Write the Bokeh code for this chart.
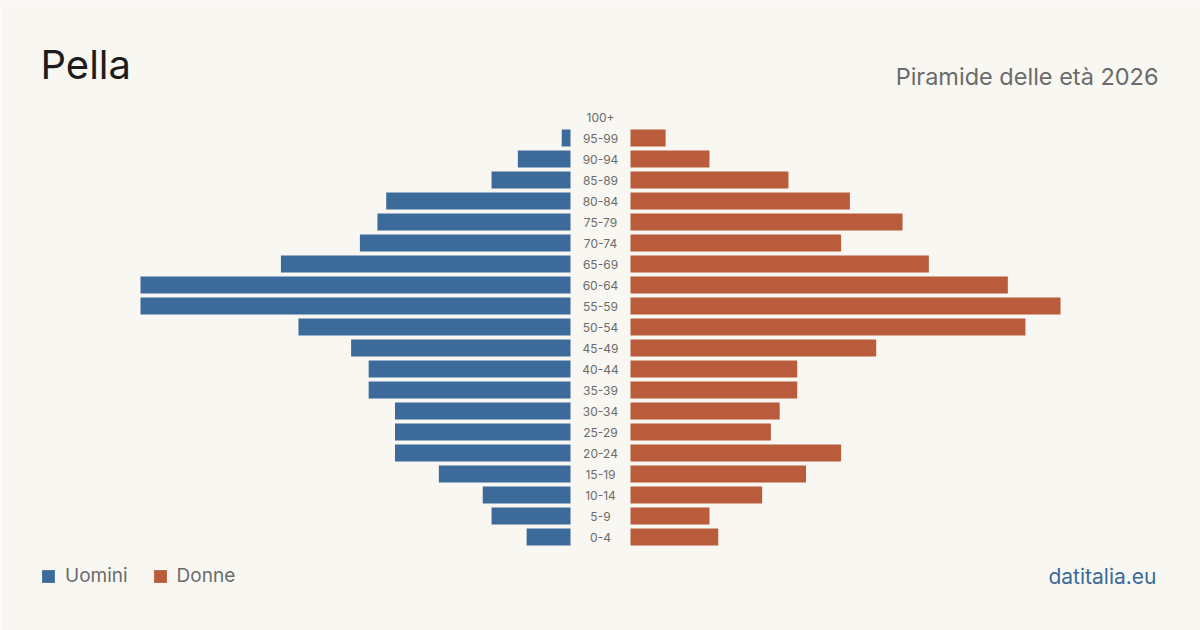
from bokeh.plotting import figure
from bokeh.models import Range1d, Label, Legend, LegendItem, ColumnDataSource
from bokeh.core.properties import value
from bokeh.embed import file_html
from bokeh.resources import INLINE

age_groups = ["0-4", "5-9", "10-14", "15-19", "20-24", "25-29", "30-34", "35-39",
              "40-44", "45-49", "50-54", "55-59", "60-64", "65-69", "70-74", "75-79",
              "80-84", "85-89", "90-94", "95-99", "100+"]
men = [5, 9, 10, 15, 20, 20, 20, 23, 23, 25, 31, 49, 49, 33, 24, 22, 21, 9, 6, 1, 0]
women = [10, 9, 15, 20, 24, 16, 17, 19, 19, 28, 45, 49, 43, 34, 24, 31, 25, 18, 9, 4, 0]

BG = "#f9f7f2"
BLUE = "#3b6a9b"
ORANGE = "#b85c3c"
FONT = "Inter"

k = 430 / 49.0          # pixels per person
gap = 30 / k            # half width of the label column in data units
idx = list(range(len(age_groups)))

p = figure(width=1200, height=630, output_backend="svg", toolbar_location=None,
           x_range=Range1d(-600 / k, 600 / k),
           y_range=Range1d(-93.5 / 21.0, 536.5 / 21.0),
           min_border=0, background_fill_color=BG, border_fill_color=BG)
p.axis.visible = False
p.grid.visible = False
p.outline_line_color = None

src = ColumnDataSource(dict(
    y=idx,
    m_left=[-gap - v for v in men],
    m_right=[-gap] * len(men),
    w_left=[gap] * len(women),
    w_right=[gap + v for v in women],
    label=age_groups,
))

rm = p.hbar(y="y", left="m_left", right="m_right", height=17 / 21.0, source=src,
            fill_color=BLUE, line_color=None)
rw = p.hbar(y="y", left="w_left", right="w_right", height=17 / 21.0, source=src,
            fill_color=ORANGE, line_color=None)

p.text(x=0, y="y", text="label", source=src, text_align="center", text_baseline="middle",
       text_font=value(FONT), text_font_size="12px", text_color="#6b6b6b")

p.add_layout(Label(x=40, y=566, x_units="screen", y_units="screen", text="Pella",
                   text_font=FONT, text_font_size="40px", text_color="#1c1c1c",
                   text_baseline="alphabetic"))
p.add_layout(Label(x=1158, y=554, x_units="screen", y_units="screen",
                   text="Piramide delle età 2026", text_align="right",
                   text_font=FONT, text_font_size="23.5px", text_color="#6b6b6b",
                   text_baseline="alphabetic"))
p.add_layout(Label(x=1156, y=54, x_units="screen", y_units="screen",
                   text="datitalia.eu", text_align="right",
                   text_font=FONT, text_font_size="21px", text_color=BLUE,
                   text_baseline="alphabetic"))

legend = Legend(items=[LegendItem(label="Uomini", renderers=[rm]),
                       LegendItem(label="Donne", renderers=[rw])],
                location=(40, 43), orientation="horizontal",
                glyph_width=16, glyph_height=16, label_standoff=9, spacing=24,
                padding=0, margin=0, background_fill_alpha=0, border_line_alpha=0,
                label_text_font=FONT, label_text_font_size="19px",
                label_text_color="#6b6b6b")
p.add_layout(legend)

open("out.html", "w").write(file_html(p, INLINE))
